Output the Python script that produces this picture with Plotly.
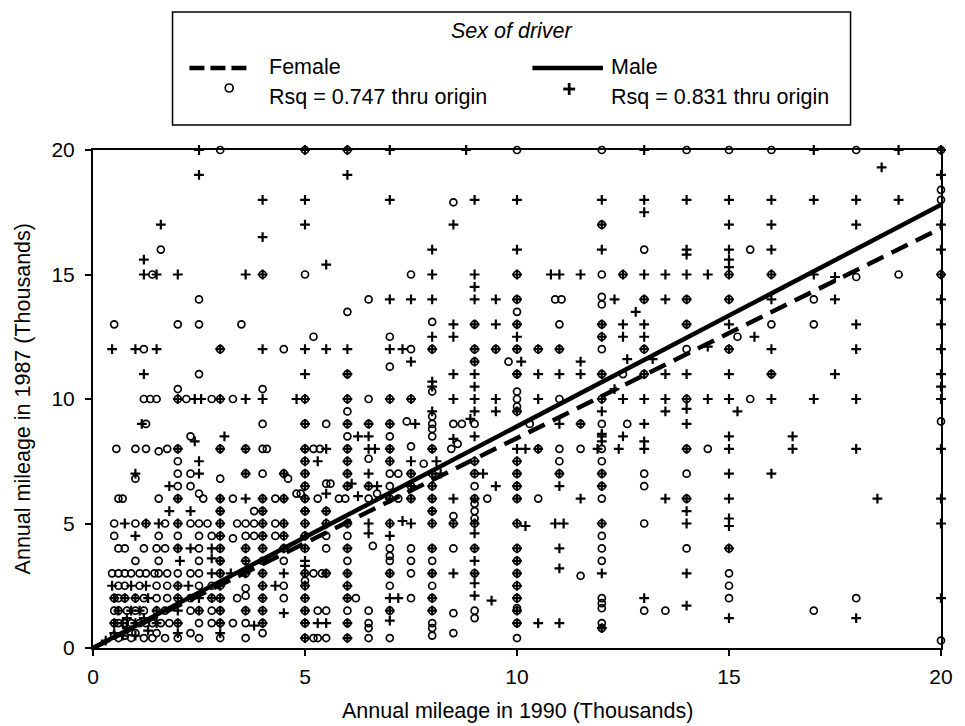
import plotly.graph_objects as go

# ---------------- data (thousands of miles) ----------------
female_pts = [
    (3,20),(5,20),(6,20),(10,20),(12,20),(14,20),(15,20),(16,20),(18,20),(20,20),
    (20,18.4),(8.5,17.9),(20,18),(12,17),(1.6,16),(13,16),(15.5,16),
    (1.4,15),(4,15),(5,15),(7.5,15),(10,15),(12,15),(12.5,15),(15,15),(16,15),(18,14.9),(19,15),(20,15),
    (2.5,14),(6.5,14),(10,14),(10.9,14),(11.05,14),(12,14.1),(12,13.8),(13,14),(14,14),(15,14),(17,14),
    (6,13.5),(10,13.5),
    (0.5,13),(2,13),(2.5,13),(3.5,13),(8,13.1),(9,13),(10,13),(11,13),(12,13),(14,13),(16,13),(17,13),
    (5.2,12.5),(7,12.5),(12,12.5),(15.2,12.5),
    (1.2,12),(3,12),(4.5,12),(7.5,12),(8,12),(9,12),(9.5,12),(10,12),(10.5,12),(11,12),(12,12),(13,12),(14,12),(15,12),
    (9,11.5),(9.8,11.5),
    (2.5,11),(6,11),(7,11.3),(10,11),(12,11),(12.5,11),(13,11),(16,11),
    (2,10.4),(4,10.4),
    (1.2,10),(1.35,10),(1.5,10),(2,10),(2.2,10),(2.8,10),(3,10),(3.3,10),(5,10),(6,10),(6.5,10),(7,10),(7.5,10),
    (8,10.3),(10,10),(10,9.7),(10,10.3),(11,10),(12,10),(14,10),(15.5,10),
    (6,9.5),(10,9.5),
    (1.25,9),(4,9),(5,9),(5.5,9),(6,9),(6.5,9),(7,9),(7.4,9.1),(8,9),(8,9.3),(8,8.8),(8.5,9),(8.7,9),(9,9),
    (10.3,9),(11.5,9),(12,9),(12.6,9),(20,9.1),
    (2.3,8.5),(6,8.5),(7,8.5),(8,8.5),
    (0.55,8),(1,8),(1.25,8),(1.55,7.9),(1.75,8),(2,8),(3,8),(3.6,8),(4,8),(4.1,8),(5,8),(5.2,8),(5.35,8),(6,8),
    (7,8),(7.5,8.1),(8,8),(8.45,8),(8.6,8.2),(10.5,8),(11,8),(11.5,8),(12,8),(14,8),(14.5,8),
    (2,7.5),(5,7.5),(6,7.5),(6.5,7.6),(7,7.5),(7.8,7.4),(9,7.5),(10,7.5),(11,7.5),(12,7.5),
    (1,6.8),(2,7),(2.3,7),(3.6,7),(4,7),(4.5,7),(4.6,6.8),(5,7),(6,7),(7,7),(7.2,7),(7.5,7),(8,7),(9,7),(10,7),
    (11,7),(12,7),(13,7),(14,7),
    (2,6.5),(2.3,6.5),(3,6.8),(5,6.5),(5.5,6.6),(5.6,6.6),(6,6.5),(6.5,6.5),(7,6.5),(7.5,6.5),(8,6.5),(9,6.5),
    (10,6.5),(12,6.5),(13,6.5),
    (0.6,6),(0.7,6),(1.55,6),(2,6),(2.5,6.2),(2.6,6),(3,6),(3.3,6),(4,6),(4.3,6),(4.5,6),(4.8,6.2),(4.9,6.2),
    (5,6),(5.3,6),(5.8,6),(5.95,6),(6.5,6),(6.7,6.2),(7,6),(7.2,6),(7.5,6),(8,6),(9,6),(9.3,6),(10,6),(10.5,6),
    (12,6),(14,6),
    (3,5.5),(3.8,5.5),(4,5.5),(5,5.5),(5.5,5.5),(8,5.5),(8.5,5.3),(9,5.5),(9,5.2),(9,5.8),
    (0.5,5),(1,5),(1.25,5),(1.7,5),(2,5),(2.3,5),(2.5,5),(2.7,5),(3,5),(3.4,5),(3.6,5),(3.8,5),(4,5),(4.3,5),
    (4.5,5),(5,5),(5.5,5),(6,5),(7,5),(8,5),(8.5,5),(9,5),(10,5),(12,5),(13,5),
    (0.5,4.5),(1.55,4.5),(2,4.5),(2.5,4.5),(2.8,4.5),(3,4.5),(3.3,4.4),(3.6,4.5),(3.8,4.5),(4,4.5),(4.3,4.5),
    (4.5,4.5),(5,4.5),(5.5,4.5),(6,4.5),(12,4.5),
    (0.6,4),(0.75,4),(1.2,4),(1.5,4),(1.7,4),(2,4),(2.5,4),(3,4),(3.6,4),(4,4),(4.5,4),(5,4),(5.5,4),(6,4),
    (6.6,4.1),(7,4),(7,3.7),(7.5,4),(8,4),(8.5,4),(9,4),(10,4),(12,4),(14,4),(15,4),
    (1,3.5),(1.55,3.5),(2.5,3.5),(3,3.5),(3.6,3.5),(4,3.5),(4.5,3.5),(6,3.5),(7,3.5),(7.5,3.5),(8,3.5),
    (10,3.5),(12,3.5),
    (0.45,3),(0.6,3),(0.75,3),(0.9,3),(1.1,3),(1.25,3),(1.45,3),(1.55,3),(1.75,3),(2,3),(2.3,3),(2.5,3),(3,3),
    (3.6,3),(4,3),(5,3),(5.2,3),(5.4,3),(5.5,3),(6,3),(7,3),(7.5,3),(8,3),(9,3),(10,3),(11.5,2.9),(15,3),
    (0.6,2.5),(0.75,2.5),(1.1,2.5),(1.5,2.5),(1.75,2.5),(2,2.5),(2.5,2.5),(2.8,2.5),(3,2.5),(3.6,2.4),(4,2.5),
    (4.5,2.5),(5,2.5),(5,2.7),(6,2.5),(7,2.5),(8,2.5),(10,2.5),(15,2.5),
    (0.5,2),(0.6,2),(0.75,2),(1,2),(1.2,2),(1.5,2),(1.75,2),(2,2),(2.3,2),(2.8,2),(3,2),(3.4,2),(3.6,2.1),(4,2),
    (4.5,2),(5,2),(6,2),(6.2,2),(7.5,2),(8,2),(10,2),(10,1.6),(12,2),(12,1.8),(12,1.6),(15,2),(18,2),
    (0.5,1.5),(0.6,1.5),(0.8,1.5),(1,1.5),(1.2,1.5),(1.5,1.5),(1.7,1.5),(2.3,1.5),(2.5,1.5),(2.8,1.5),(3,1.5),
    (3.6,1.5),(4,1.5),(5,1.5),(5.3,1.5),(5.5,1.5),(6,1.5),(6.5,1.5),(7,1.5),(8,1.5),(8.5,1.4),(9,1.5),(9,1.2),
    (10,1.5),(13,1.5),(13.5,1.5),(17,1.5),
    (0.5,1),(0.6,1),(0.75,1),(0.9,1),(1.1,1),(1.25,1),(1.4,1),(1.6,1),(1.8,1),(2,1),(2.5,1),(2.8,1),(3,1),
    (3.3,1),(3.6,1),(4,1),(5,1),(6,1),(6.5,1),(6.5,0.8),(8,1),(8,0.8),(10,1),(12,1),
    (0.5,0.5),(0.6,0.4),(0.75,0.5),(0.9,0.4),(1,0.6),(1.2,0.4),(1.4,0.4),(1.5,0.6),(1.7,0.4),(2,0.4),(2.3,0.6),
    (2.5,0.4),(3,0.4),(3.6,0.4),(4,0.6),(5,0.4),(5.2,0.4),(5.3,0.4),(5.5,0.4),(6,0.4),(6.5,0.4),(7,0.4),(8,0.5),
    (8.5,0.6),(10,0.4),(12,0.8),(20,0.3),
]

male_pts = [
    (2.5,20),(5,20),(6,20),(7,20),(8.8,20),(13,20),(17,20),(19,20),(20,20),
    (2.5,19),(6,19),(18.6,19.3),(20,19),
    (4,18),(5,18),(7,18),(9,18),(10,18),(12,18),(13,18),(14,18),(15,18),(16,18),(17,18),(18,18),(19,18),
    (13,17.5),
    (1.6,17),(5,17),(8.5,17),(12,17),(15,17),(16,17),(18,17),(20,17),
    (4,16.5),
    (8,16),(10,16),(12,16),(14,16),(14,15.8),(15,16),(15,15.6),(16,16),(20,16),
    (1.2,15.6),(5.5,15.4),(15,15.3),
    (1.2,15),(1.5,15),(2,15),(3.6,15),(4,15),(8,15),(9,15),(10,15),(10.8,15),(11,15),(11.5,15),(12.5,15),(13,15),
    (13.5,15),(14,15),(14.5,15),(15,15),(16,15),(17,15),(17.5,14.9),(20,15),
    (9,14.5),
    (7,14),(7.5,14),(8,14),(9,14),(9.5,14),(10,14),(12.3,14),(13,14),(13.5,14),(14,14),(15,14),(16,14),
    (17.5,14),(20,14),
    (12.8,13.5),
    (8.5,13),(9,13),(9.5,13),(10,13),(12,13),(12.5,13),(13,13),(14,13),(15,13),(18,13),(20,13),
    (8,12.5),(8.5,12.5),(10,12.5),(12,12.5),(12.5,12.5),(13,12.5),(15.6,12.5),
    (0.45,12),(1,12),(1.5,12),(3,12),(4,12),(5,12),(5.5,12),(6,12),(7,12),(7.3,12),(8,12),(9,12),(9.5,12),
    (10,12),(10.5,12),(11,12),(13,12),(14.5,12.1),(15,12),(16,12),(18,12),(20,12),
    (7.5,11.5),(9,11.5),(10.1,11.5),(11.5,11.5),(12.6,11.6),(13.2,11.6),
    (1.2,11),(5,11),(6,11),(8.5,11),(9,11),(10,11),(10.5,11),(11,11),(11.5,11),(12,11),(13,11),(13.5,11),
    (14,11),(15,11),(16,11),(17.5,11),(20,11),
    (8,10.5),(9,10.5),(20,10.5),(12.3,10.4),(8,10.7),
    (2,10),(2.4,10),(2.55,10),(3,10),(3.6,10),(4,10),(4.8,10),(5,10),(6,10),(7,10),(7.5,10),(8.5,10),(9,10),
    (9.5,10),(10.5,10),(12,10),(12.5,10),(13,10),(13.5,10),(14,10),(14.5,10),(15,10),(16,10),(17,10),(18,10),
    (20,10),
    (8,9.5),(9,9.5),(9.5,9.5),(10,9.5),(12,9.5),(13.5,9.5),(14,9.6),(15.2,9.5),
    (1.15,9),(5,9),(6,9),(6.5,9),(7,9),(7.6,9),(8.9,9.2),(11,9),(11.5,9),(13,9),(14,9),
    (2.4,8.3),(3.1,8.5),(6.25,8.5),(6.5,8.5),(8.5,8.4),(9,8.5),(12,8.5),(12,8.6),(12,8.3),(12.5,8.5),(13,8.3),
    (15,8.5),(16.5,8.5),
    (2,8),(3,8),(3.6,8),(5,8),(5.5,8),(6,8),(6.5,8),(6.65,8),(7,8),(8,8),(10,8),(10.2,8),(10.5,8),(11.9,8),
    (12.4,8),(13,8),(14,8),(15,8),(16.5,8),(18,8),(20,8),
    (2.5,7.5),(5,7.5),(5.3,7.5),(6,7.5),(7,7.5),(7.5,7.5),(8.1,7.5),(9,7.5),(10,7.5),
    (1,7),(2.5,7),(3.6,7),(4.5,7),(5,7),(6,7),(6.5,7),(7.5,7),(8,7),(8.2,7),(9,7),(9.2,7),(10,7),(11,7),(12,7),
    (15,7),(16,7),
    (1.8,6.5),(5,6.5),(6,6.5),(6.1,6.6),(6.5,6.5),(6.7,6.5),(7.5,6.5),(8,6.5),(9.5,6.5),(10,6.5),(11,6.5),(12,6.5),
    (2,6),(3,6),(3.6,6),(4,6),(4.5,6),(5,6),(5.5,6.2),(6.25,6.1),(7,6),(7.5,6),(8,6),(8.5,6),(9,6),(10,6),
    (11.5,6),(13.5,6),(14,6),(15,6),(18.5,6),(20,6),
    (1.8,5.5),(2.3,5.5),(3,5.5),(4,5.5),(5,5.5),(5.5,5.5),(8,5.5),(14,5.5),
    (0.75,5),(1.25,5),(1.55,5),(2,5),(3,5),(4,5),(4.5,5),(5,5),(5.5,5),(6,5),(6.5,5),(7,5),(7.3,5.1),(7.5,5),
    (8,5),(8.5,5),(9,5),(9,4.6),(10,5),(10.2,4.9),(10.9,5),(11.1,5),(12,5),(14,5),(15,5.2),(15,4.9),(20,5),
    (1,4.5),(3,4.5),(4,4.5),(4.5,4.5),(5,4.5),(6.5,4.6),(7,4.5),
    (2,4),(2.3,4),(2.8,4),(3,4),(3.6,4),(4,4),(4.5,4),(5,4),(6,4),(8,4),(9,4),(10,4),(11,4),(15,4),
    (2.05,3.5),(2.8,3.6),(3,3.5),(3.6,3.5),(5,3.5),(5,3.3),(9,3.5),(10,3.5),
    (2.8,3),(3,3),(3.25,3),(3.6,3),(4,3),(4.5,3),(5,3),(5.5,3),(6,3),(7,3),(8,3),(8.5,3),(9,3),(10,3),
    (11,3.2),(12,3),(14,3),
    (0.45,2.5),(0.9,2.5),(1.25,2.5),(2,2.5),(2.25,2.5),(3,2.5),(4,2.5),(4.3,2.5),(5,2.5),(6,2.5),(9,2.6),(10,2.5),
    (0.5,2),(0.75,2),(1,2),(1.3,2),(2,2),(2.5,2),(2.8,2),(3,2),(4,2),(5,2),(6,2),(7,2),(7.2,2),(8,2),(9,2.1),
    (9.4,1.9),(10,2),(13,2),(20,2),
    (0.6,1.5),(0.9,1.5),(1.1,1.5),(1.5,1.5),(2,1.5),(2.5,1.5),(3,1.5),(3.6,1.5),(4,1.5),(4.5,1.4),(5,1.5),
    (7,1.5),(8,1.5),(10,1.5),(14,1.7),
    (0.5,1),(0.7,1),(0.8,1.2),(1,1),(1.2,1.2),(1.5,1),(2,1),(3,1),(3.8,0.9),(4,1),(5,1),(5.3,1),(5.5,1),(6,1),
    (7,1.1),(10,1),(10.5,1),(11,1),(15,1.2),(18,1.2),
    (0.3,0.3),(0.5,0.6),(0.7,0.5),(0.8,0.8),(1,0.5),(1.3,0.7),(2,0.6),(3,0.6),(5,0.4),(6,0.4),(12,0.8),
]

female_x = [p[0] for p in female_pts]
female_y = [p[1] for p in female_pts]
male_x = [p[0] for p in male_pts]
male_y = [p[1] for p in male_pts]

# regression slopes through origin
female_slope = 0.843
male_slope = 0.890
line_x = [0, 20]

tick_vals = [0, 5, 10, 15, 20]
tick_text = ["0", "5", "10", "15", "20"]

# ---------------- figure ----------------
W, H = 965, 726
L, R, T, B = 93, 19, 150, 78
pw, ph = W - L - R, H - T - B

def px(x):
    return (x - L) / pw

def py(y):
    return (H - B - y) / ph

FONT = "Liberation Sans, Arial, Helvetica, sans-serif"
TXT = 21.5

fig = go.Figure()
fig.add_trace(go.Scatter(
    x=female_x, y=female_y, mode="markers", cliponaxis=False, showlegend=False,
    marker=dict(symbol="circle-open", size=7, color="black", line=dict(width=1.7, color="black")),
))
fig.add_trace(go.Scatter(
    x=male_x, y=male_y, mode="markers", cliponaxis=False, showlegend=False,
    marker=dict(symbol="cross-thin-open", size=7, color="black", line=dict(width=2.2, color="black")),
))
fig.add_trace(go.Scatter(
    x=line_x, y=[v * female_slope for v in line_x], mode="lines", showlegend=False,
    line=dict(color="black", width=4.5, dash="18px,9px"),
))
fig.add_trace(go.Scatter(
    x=line_x, y=[v * male_slope for v in line_x], mode="lines", showlegend=False,
    line=dict(color="black", width=4.5),
))

shapes = []
# legend box
shapes.append(dict(type="rect", xref="paper", yref="paper",
                   x0=px(173), x1=px(855), y0=py(125), y1=py(12),
                   line=dict(color="black", width=1.5), fillcolor="white"))
# female dashed sample
shapes.append(dict(type="line", xref="paper", yref="paper",
                   x0=px(190), x1=px(253), y0=py(68), y1=py(68),
                   line=dict(color="black", width=4.5, dash="15px,6px")))
# female circle sample
shapes.append(dict(type="circle", xref="paper", yref="paper",
                   x0=px(226), x1=px(234), y0=py(92), y1=py(84),
                   line=dict(color="black", width=1.7)))
# male solid sample
shapes.append(dict(type="line", xref="paper", yref="paper",
                   x0=px(535), x1=px(606), y0=py(68), y1=py(68),
                   line=dict(color="black", width=4.5)))
# male plus sample
shapes.append(dict(type="line", xref="paper", yref="paper",
                   x0=px(566), x1=px(578), y0=py(89), y1=py(89),
                   line=dict(color="black", width=2.8)))
shapes.append(dict(type="line", xref="paper", yref="paper",
                   x0=px(572), x1=px(572), y0=py(95), y1=py(83),
                   line=dict(color="black", width=2.8)))

def ann(text, x, y, anchor="left", size=TXT, angle=0):
    return dict(text=text, x=px(x), y=py(y), xref="paper", yref="paper", showarrow=False,
                xanchor=anchor, yanchor="middle", textangle=angle,
                font=dict(size=size, color="black", family=FONT))

annotations = [
    ann("<i>Sex of driver</i>", 514, 31, "center"),
    ann("Female", 268, 67),
    ann("Rsq = 0.747 thru origin", 268, 97),
    ann("Male", 612, 67),
    ann("Rsq = 0.831 thru origin", 612, 97),
    ann("Annual mileage in 1990 (Thousands)", 519.5, 711, "center"),
    ann("Annual mileage in 1987 (Thousands)", 23, 399, "center", angle=-90),
]

axis_common = dict(
    range=[0, 20], showgrid=False, zeroline=False, showline=True, mirror=True,
    linecolor="black", linewidth=2, ticks="outside", ticklen=6, tickwidth=2, tickcolor="black",
    tickvals=tick_vals, ticktext=tick_text, tickfont=dict(size=21, color="black", family=FONT),
)

fig.update_layout(
    width=W, height=H, margin=dict(l=L, r=R, t=T, b=B),
    plot_bgcolor="white", paper_bgcolor="white",
    font=dict(family=FONT, color="black"),
    xaxis=dict(**axis_common, ticklabelstandoff=3),
    yaxis=dict(**axis_common, ticklabelstandoff=6),
    shapes=shapes, annotations=annotations, showlegend=False,
)

fig.write_html("out.html")
